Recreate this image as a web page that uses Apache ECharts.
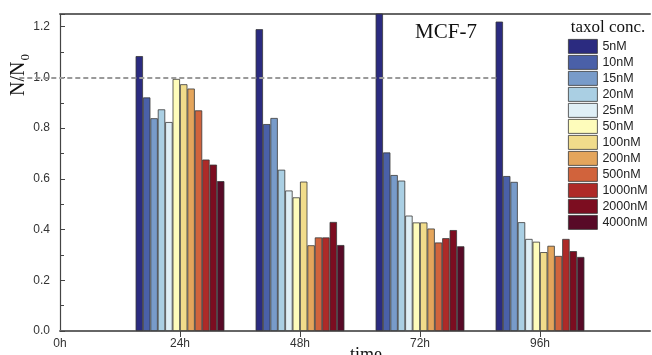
<!DOCTYPE html>
<html><head><meta charset="utf-8">
<script src="https://cdn.jsdelivr.net/npm/echarts@6/dist/echarts.min.js"></script>
<style>html,body{margin:0;padding:0;background:#fff}#c{width:652px;height:355px}</style>
</head><body><div id="c"></div>
<script>
// time points (hours) where bar groups sit
const times = [24, 48, 72, 96];
const xTickLabels = [0, 24, 48, 72, 96];
const xTickMarks = [24, 48, 72, 96];
const concentrations = ['5nM','10nM','15nM','20nM','25nM','50nM','100nM','200nM','500nM','1000nM','2000nM','4000nM'];
const colors = ['#2b2b80','#4a60a8','#789bc9','#aacfe3','#dfeff6','#fefcbb','#f1dc8b','#e4a55c','#d1633c','#ae2a28','#7c0d20','#580a27'];
// N/N0 values per concentration at 24h, 48h, 72h, 96h
const v5nM    = [1.084, 1.190, 1.260, 1.220];
const v10nM   = [0.921, 0.816, 0.704, 0.611];
const v15nM   = [0.839, 0.840, 0.615, 0.588];
const v20nM   = [0.874, 0.636, 0.593, 0.429];
const v25nM   = [0.824, 0.554, 0.455, 0.363];
const v50nM   = [0.994, 0.527, 0.428, 0.352];
const v100nM  = [0.973, 0.589, 0.428, 0.311];
const v200nM  = [0.956, 0.338, 0.404, 0.336];
const v500nM  = [0.870, 0.369, 0.349, 0.296];
const v1000nM = [0.676, 0.369, 0.366, 0.363];
const v2000nM = [0.656, 0.430, 0.398, 0.315];
const v4000nM = [0.591, 0.339, 0.334, 0.292];
const allValues = [v5nM,v10nM,v15nM,v20nM,v25nM,v50nM,v100nM,v200nM,v500nM,v1000nM,v2000nM,v4000nM];
const referenceLevel = 1.0;

const chart = echarts.init(document.getElementById('c'), null, {renderer:'canvas'});
const series = concentrations.map((name, i) => ({
  name: name,
  type: 'bar',
  barWidth: 7.4,
  barGap: '0%',
  clip: true,
  itemStyle: {color: colors[i], borderColor: '#383838', borderWidth: 0.8},
  data: times.map((t, j) => [t, allValues[i][j]]),
  animation: false
}));
series[0].markLine = {
  silent: true, symbol: 'none', animation: false,
  label: {show: false},
  lineStyle: {color: '#9a9a9a', type: [5, 3], width: 2},
  data: [[{coord: [0, referenceLevel]}, {coord: [96, referenceLevel]}]]
};

chart.setOption({
  animation: false,
  backgroundColor: '#fff',
  grid: {left: 60, right: 2, top: 14, bottom: 24, containLabel: false},
  xAxis: [{
    type: 'value', min: 0, max: 118,
    axisLine: {show: true, lineStyle: {color: '#666', width: 2}},
    axisTick: {show: true, inside: false, length: 6, customValues: xTickMarks, lineStyle: {color: '#444', width: 1}},
    axisLabel: {customValues: xTickLabels, formatter: v => v + 'h', fontFamily: 'Liberation Sans', fontSize: 12, color: '#333', margin: 7},
    splitLine: {show: false}
  }, {
    type: 'value', min: 0, max: 118, position: 'top',
    axisLine: {show: true, onZero: false, lineStyle: {color: '#666', width: 2}},
    axisTick: {show: false}, axisLabel: {show: false}, splitLine: {show: false}
  }],
  yAxis: {
    type: 'value', min: 0, max: 1.25, interval: 0.2,
    axisLine: {show: true, lineStyle: {color: '#444', width: 1.2}},
    axisTick: {show: true, inside: true, length: 5, lineStyle: {color: '#444'}},
    minorTick: {show: true, splitNumber: 2, length: 4, lineStyle: {color: '#444'}},
    axisLabel: {formatter: v => v.toFixed(1), showMaxLabel: false, fontFamily: 'Liberation Sans', fontSize: 12, color: '#333', margin: 10},
    splitLine: {show: false}
  },
  legend: {
    orient: 'vertical', left: 563, top: 34,
    icon: 'rect', itemWidth: 29, itemHeight: 14, itemGap: 1.2,
    itemStyle: {borderWidth: 0.8, borderColor: '#383838'},
    textStyle: {fontFamily: 'Liberation Sans', fontSize: 12.5, lineHeight: 14, color: '#222'},
    data: concentrations
  },
  graphic: [
    {type: 'text', x: 446, y: 32, style: {text: 'MCF-7', fontFamily: 'Liberation Serif', fontSize: 21, fill: '#111', align: 'center', verticalAlign: 'middle'}},
    {type: 'text', x: 608, y: 28, style: {text: 'taxol conc.', fontFamily: 'Liberation Serif', fontSize: 17, fill: '#111', align: 'center', verticalAlign: 'middle'}},
    {type: 'text', x: 366, y: 346, style: {text: 'time', fontFamily: 'Liberation Serif', fontSize: 18, fill: '#111', align: 'center', verticalAlign: 'top'}},
    {type: 'text', x: 21, y: 75, rotation: Math.PI / 2, style: {
      text: '{a|N/N}{b|0}', align: 'center', verticalAlign: 'middle',
      rich: {
        a: {fontFamily: 'Liberation Serif', fontSize: 20, lineHeight: 24, fill: '#111', verticalAlign: 'top'},
        b: {fontFamily: 'Liberation Serif', fontSize: 13, lineHeight: 14, fill: '#111', verticalAlign: 'top', padding: [10, 0, 0, 1]}
      }
    }}
  ],
  series: series
});
</script></body></html>
